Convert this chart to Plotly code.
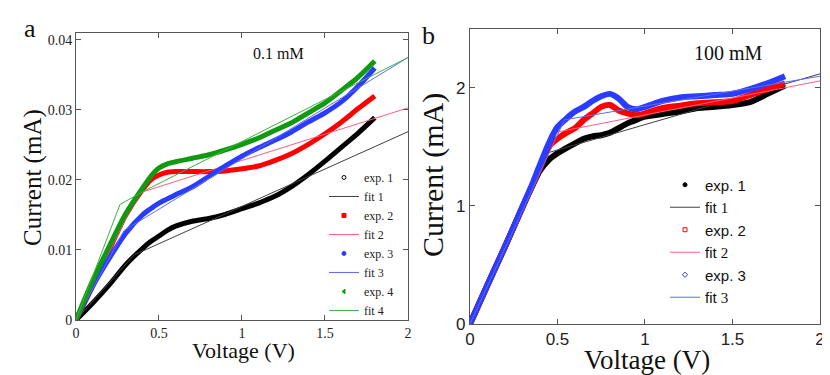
import plotly.graph_objects as go
from plotly.subplots import make_subplots

# ---- panel a : 0.1 mM ----
v_a = [0, 0.1, 0.2, 0.3, 0.4, 0.45, 0.5, 0.55, 0.6, 0.7, 0.8, 0.9, 1.0,
       1.1, 1.2, 1.3, 1.4, 1.5, 1.6, 1.7, 1.8]
exp1_a = [0, 0.0024, 0.005, 0.0079, 0.0102, 0.0112, 0.012, 0.0128, 0.0134, 0.0141, 0.0145, 0.0151, 0.0159,
          0.0167, 0.0177, 0.0191, 0.0208, 0.0227, 0.0247, 0.0267, 0.0289]
exp2_a = [0, 0.0048, 0.01, 0.015, 0.0186, 0.02, 0.0207, 0.0211, 0.0212, 0.0212, 0.0212, 0.0213, 0.0216,
          0.022, 0.0228, 0.0238, 0.0251, 0.0266, 0.0283, 0.0302, 0.032]
exp3_a = [0, 0.0048, 0.0088, 0.0124, 0.015, 0.0159, 0.0167, 0.0173, 0.0179, 0.019, 0.0205, 0.022, 0.0234,
          0.0246, 0.0257, 0.0269, 0.0283, 0.0296, 0.0312, 0.0334, 0.036]
exp4_a = [0, 0.0056, 0.0105, 0.0152, 0.0188, 0.0205, 0.0217, 0.0223, 0.0226, 0.0231, 0.0236, 0.0243, 0.0251,
          0.026, 0.0271, 0.0282, 0.0296, 0.031, 0.0328, 0.0347, 0.037]
fit1_a_v = [0, 0.35, 2]
fit1_a = [0, 0.0093, 0.0269]
fit2_a_v = [0, 0.375, 2]
fit2_a = [0, 0.0181, 0.0303]
fit3_a_v = [0, 0.29, 2]
fit3_a = [0, 0.0128, 0.0375]
fit4_a_v = [0, 0.265, 0.4, 2]
fit4_a = [0, 0.0165, 0.0183, 0.0375]

# ---- panel b : 100 mM ----
v_b = [0, 0.1, 0.2, 0.3, 0.35, 0.4, 0.45, 0.5, 0.55, 0.6, 0.65, 0.7, 0.75, 0.8, 0.85, 0.9, 0.95,
       1.0, 1.1, 1.2, 1.3, 1.4, 1.5, 1.6, 1.7, 1.8]
exp1_b = [0, 0.33, 0.655, 0.99, 1.15, 1.30, 1.39, 1.446, 1.49, 1.53, 1.57, 1.59, 1.60, 1.62, 1.66, 1.70, 1.73,
          1.757, 1.78, 1.80, 1.83, 1.84, 1.855, 1.88, 1.95, 2.02]
exp2_b = [0, 0.33, 0.655, 0.99, 1.155, 1.32, 1.50, 1.57, 1.62, 1.66, 1.73, 1.785, 1.84, 1.856, 1.81, 1.785, 1.77,
          1.785, 1.83, 1.85, 1.87, 1.88, 1.89, 1.94, 1.99, 2.04]
exp3_b = [0, 0.33, 0.655, 0.994, 1.164, 1.35, 1.53, 1.67, 1.74, 1.80, 1.84, 1.89, 1.93, 1.95, 1.91, 1.84, 1.82,
          1.84, 1.89, 1.92, 1.93, 1.94, 1.95, 1.99, 2.04, 2.10]
fit1_b_v = [0, 0.42, 2]
fit1_b = [0, 1.44, 2.12]
fit2_b_v = [0, 0.476, 2]
fit2_b = [0, 1.62, 2.06]
fit3_b_v = [0, 0.54, 2]
fit3_b = [0, 1.73, 2.10]

exp_cols = ["#000000", "#ff0000", "#2a3cff", "#109a10"]
fit_cols = ["#404040", "#ff6080", "#5a6cff", "#40b040"]

SERIF = "Liberation Serif"
SANS = "Liberation Sans"

# page body has an 8px margin, so the figure is 8px smaller than the window
W, H = 822, 367

fig = make_subplots(rows=1, cols=2)


def add_pair(v, e, fv, f, i, col, legend, sym, width, label_font):
    n = i + 1
    fig.add_trace(go.Scatter(x=v, y=e, mode="lines",
                             line=dict(color=exp_cols[i], width=width, shape="spline", smoothing=0.7),
                             showlegend=False, hoverinfo="skip"), row=1, col=col)
    # legend-only entry showing the marker style of the measured data
    fig.add_trace(go.Scatter(x=[None], y=[None], mode="markers", name="exp. %d" % n,
                             marker=dict(color=exp_cols[i], size=4, symbol=sym,
                                         line=dict(color=exp_cols[i], width=1)),
                             legend=legend), row=1, col=col)
    if label_font:
        nm = "fit <span style='font-family:%s'>%d</span>" % (label_font, n)
    else:
        nm = "fit %d" % n
    fig.add_trace(go.Scatter(x=fv, y=f, mode="lines", name=nm,
                             line=dict(color=fit_cols[i], width=1), legend=legend),
                  row=1, col=col)


add_pair(v_a, exp1_a, fit1_a_v, fit1_a, 0, 1, "legend", "circle-open", 5, None)
add_pair(v_a, exp2_a, fit2_a_v, fit2_a, 1, 1, "legend", "square", 5, None)
add_pair(v_a, exp3_a, fit3_a_v, fit3_a, 2, 1, "legend", "circle", 5, None)
add_pair(v_a, exp4_a, fit4_a_v, fit4_a, 3, 1, "legend", "triangle-left", 5, None)

add_pair(v_b, exp1_b, fit1_b_v, fit1_b, 0, 2, "legend2", "circle", 6, SERIF)
add_pair(v_b, exp2_b, fit2_b_v, fit2_b, 1, 2, "legend2", "square-open", 6, SERIF)
add_pair(v_b, exp3_b, fit3_b_v, fit3_b, 2, 2, "legend2", "diamond-open", 6, SERIF)

ax_common = dict(showgrid=False, zeroline=False, showline=True, linecolor="#555555",
                 linewidth=1, mirror="ticks", ticks="inside", ticklen=5, tickcolor="#555555",
                 automargin=False)

fig.update_xaxes(**ax_common)
fig.update_yaxes(**ax_common)

fig.update_xaxes(domain=[0.0827, 0.4866], range=[0, 2], tickvals=[0, 0.5, 1, 1.5, 2],
                 ticktext=["0", "0.5", "1", "1.5", "2"],
                 tickfont=dict(family=SERIF, size=14, color="#222"), row=1, col=1)
fig.update_yaxes(domain=[0.1499, 0.9319], range=[0, 0.041],
                 tickvals=[0, 0.01, 0.02, 0.03, 0.04],
                 ticktext=["0", "0.01", "0.02", "0.03", "0.04"],
                 tickfont=dict(family=SERIF, size=14, color="#222"), row=1, col=1)
fig.update_xaxes(domain=[0.5620, 0.9878], range=[0, 2], tickvals=[0, 0.5, 1, 1.5, 2],
                 ticktext=["0", "0.5", "1", "1.5", "2"],
                 tickfont=dict(family=SANS, size=17, color="#222"), row=1, col=2)
fig.update_yaxes(domain=[0.139, 0.9428], range=[0, 2.5], tickvals=[0, 1, 2],
                 tickfont=dict(family=SANS, size=17, color="#222"), row=1, col=2)

# axis titles and panel letters
titles = [
    ("Voltage (V)", 0.2859, 0.066, 0, 22),
    ("Current (mA)", 0.0304, 0.5395, -90, 25),
    ("Voltage (V)", 0.7774, 0.040, 0, 27),
    ("Current (mA)", 0.517, 0.545, -90, 30),
    ("a", 0.0268, 0.9455, 0, 26),
    ("b", 0.511, 0.926, 0, 26),
]
for txt, tx, ty, ang, sz in titles:
    fig.add_annotation(x=tx, y=ty, xref="paper", yref="paper", text=txt, showarrow=False,
                       xanchor="center", yanchor="middle",
                       textangle=ang, font=dict(family=SERIF, size=sz, color="#111"))

fig.add_annotation(x=1.22, y=0.038, xref="x", yref="y", text="0.1 mM", showarrow=False,
                   font=dict(family=SERIF, size=16, color="#111"))
fig.add_annotation(x=1.48, y=2.30, xref="x2", yref="y2", text="100 mM", showarrow=False,
                   font=dict(family=SERIF, size=20, color="#111"))

fig.update_layout(
    width=W, height=H,
    margin=dict(l=0, r=0, t=0, b=0),
    plot_bgcolor="white", paper_bgcolor="white",
    legend=dict(x=0.3844, y=0.5777, xanchor="left", yanchor="top", bgcolor="rgba(0,0,0,0)",
                font=dict(family=SERIF, size=12, color="#222"), itemwidth=30,
                tracegroupgap=0, traceorder="normal"),
    legend2=dict(x=0.7993, y=0.5627, xanchor="left", yanchor="top", bgcolor="rgba(0,0,0,0)",
                 font=dict(family=SANS, size=15, color="#111"), itemwidth=30,
                 tracegroupgap=0, traceorder="normal"),
)

fig.write_html("out.html")
